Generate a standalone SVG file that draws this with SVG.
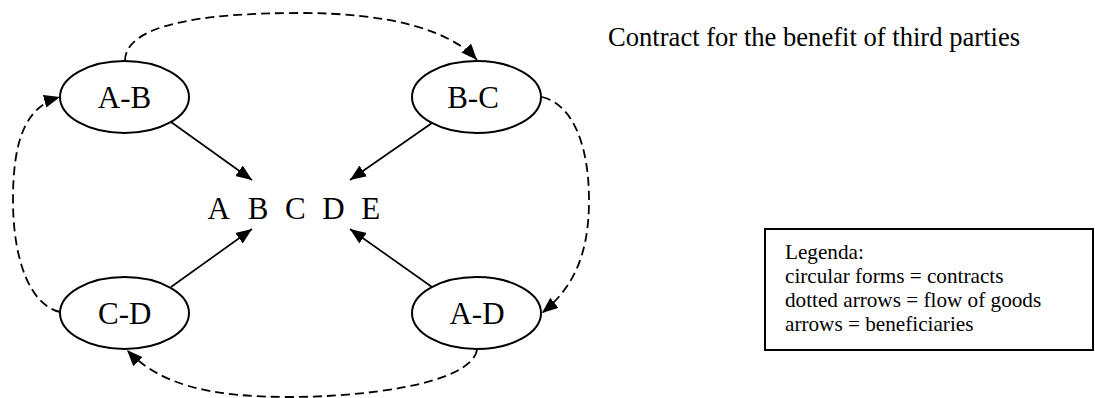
<svg xmlns="http://www.w3.org/2000/svg" width="1095" height="398" viewBox="0 0 1095 398">
<style>
text{font-family:"Liberation Serif","Times New Roman",serif;fill:#000}
.node ellipse{fill:#fff;stroke:#000;stroke-width:2}
.lbl{font-size:31px;text-anchor:middle}
.solid{fill:none;stroke:#000;stroke-width:1.7}
.dash{fill:none;stroke:#000;stroke-width:1.8;stroke-dasharray:9 5}
.legend{font-size:21.2px}
</style>
<defs>
<marker id="ah" markerUnits="userSpaceOnUse" markerWidth="17" markerHeight="14" refX="16" refY="7" orient="auto" viewBox="0 0 17 14">
<path d="M0,0.5 L16,7 L0,13.5 z" fill="#000"/>
</marker>
</defs>
<g id="connectors">
<line class="solid" x1="171" y1="122" x2="252" y2="180" marker-end="url(#ah)"/>
<line class="solid" x1="432" y1="123" x2="350" y2="180" marker-end="url(#ah)"/>
<line class="solid" x1="171" y1="287" x2="252" y2="229" marker-end="url(#ah)"/>
<line class="solid" x1="432" y1="287" x2="350" y2="229" marker-end="url(#ah)"/>
<path class="dash" d="M125,61 C125,25 200,13 300,13 C390,13 450,30 477,60" marker-end="url(#ah)"/>
<path class="dash" d="M542,97 C575,105 589,150 589,200 C589,260 570,290 542,313" marker-end="url(#ah)"/>
<path class="dash" d="M477,350 C470,385 360,397 290,397 C210,397 160,385 127,350" marker-end="url(#ah)"/>
<path class="dash" d="M60,312 C30,305 13,260 13,200 C13,135 28,106 60,97" marker-end="url(#ah)"/>
</g>
<g id="node-AB" class="node"><ellipse cx="124.5" cy="97" rx="64.5" ry="36"/><text class="lbl" x="124.5" y="108">A-B</text></g>
<g id="node-BC" class="node"><ellipse cx="476.5" cy="97" rx="64.5" ry="36"/><text class="lbl" x="473" y="108">B-C</text></g>
<g id="node-CD" class="node"><ellipse cx="124.5" cy="313" rx="64.5" ry="36"/><text class="lbl" x="124.7" y="324">C-D</text></g>
<g id="node-AD" class="node"><ellipse cx="476.5" cy="313" rx="64.5" ry="36"/><text class="lbl" x="477" y="324">A-D</text></g>
<g id="node-parties"><text font-size="31" y="219"><tspan x="207.5">A</tspan><tspan x="247.8">B</tspan><tspan x="285">C</tspan><tspan x="322.2">D</tspan><tspan x="361.3">E</tspan></text></g>
<g id="title"><text x="608" y="46" font-size="26.6">Contract for the benefit of third parties</text></g>
<g id="legend">
<rect x="765" y="229" width="328" height="121" fill="#fff" stroke="#000" stroke-width="2"/>
<text class="legend" x="785" y="259">Legenda:</text>
<text class="legend" x="785" y="283">circular forms = contracts</text>
<text class="legend" x="785" y="307">dotted arrows = flow of goods</text>
<text class="legend" x="785" y="331">arrows = beneficiaries</text>
</g>
</svg>
